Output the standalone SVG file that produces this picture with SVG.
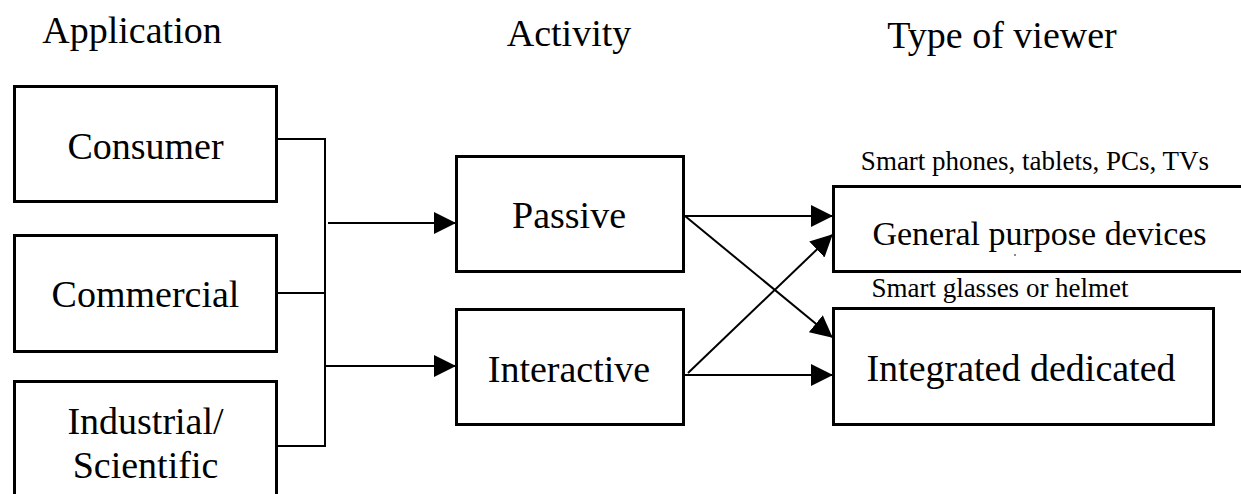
<svg xmlns="http://www.w3.org/2000/svg" width="1241" height="494" viewBox="0 0 1241 494">
  <style>
    .box { fill: #ffffff; stroke: #000000; stroke-width: 3; }
    .fill { fill: #ffffff; stroke: none; }
    .edge { fill: none; stroke: #000000; stroke-width: 3; }
    .lbl { font-family: "Liberation Serif", "Times New Roman", serif; font-size: 38px; fill: #000000; text-anchor: middle; }
    .hdr { font-family: "Liberation Serif", "Times New Roman", serif; font-size: 38px; fill: #000000; text-anchor: middle; }
    .note { font-family: "Liberation Serif", "Times New Roman", serif; font-size: 27px; fill: #000000; text-anchor: middle; }
    .conn { fill: none; stroke: #000000; stroke-width: 2; }
  </style>
  <defs>
    <marker id="arrow" markerUnits="userSpaceOnUse" markerWidth="22" markerHeight="22" refX="21" refY="11" orient="auto" viewBox="0 0 22 22">
      <path d="M0,0 L22,11 L0,22 Z" fill="#000000"/>
    </marker>
  </defs>
  <rect width="1241" height="494" fill="#ffffff"/>

  <g id="headers">
    <text class="hdr" x="132" y="43">Application</text>
    <text class="hdr" x="569" y="46">Activity</text>
    <text class="hdr" x="1002" y="48">Type of viewer</text>
  </g>

  <g id="node-consumer">
    <rect class="box" x="14.5" y="86.5" width="262" height="115"/>
    <text class="lbl" x="145.5" y="159">Consumer</text>
  </g>
  <g id="node-commercial">
    <rect class="box" x="14.5" y="235.5" width="262" height="116"/>
    <text class="lbl" x="145.5" y="307">Commercial</text>
  </g>
  <g id="node-industrial">
    <rect class="fill" x="14.5" y="381.5" width="262" height="112.5"/>
    <path class="edge" d="M14.5,494 V381.5 H276.5 V494"/>
    <text class="lbl" x="145.5" y="434">Industrial/</text>
    <text class="lbl" x="145.5" y="478">Scientific</text>
  </g>

  <g id="node-passive">
    <rect class="box" x="456.5" y="156.5" width="227" height="115"/>
    <text class="lbl" x="569" y="228">Passive</text>
  </g>
  <g id="node-interactive">
    <rect class="box" x="456.5" y="309.5" width="227" height="115"/>
    <text class="lbl" x="569" y="382">Interactive</text>
  </g>

  <g id="node-general">
    <rect class="fill" x="833.5" y="186.5" width="407.5" height="85"/>
    <path class="edge" d="M1241,186.5 H833.5 V271.5 H1241"/>
    <text class="note" x="1035" y="170">Smart phones, tablets, PCs, TVs</text>
    <text class="lbl" x="1039.5" y="245" style="font-size:34px">General purpose devices</text>
    <circle cx="1015" cy="255" r="1" fill="#666666"/>
  </g>
  <g id="node-integrated">
    <rect class="box" x="833.5" y="308.5" width="380" height="116"/>
    <text class="note" x="1000" y="297">Smart glasses or helmet</text>
    <text class="lbl" x="1021" y="381">Integrated dedicated</text>
  </g>

  <g id="connectors">
    <path class="conn" d="M278,139 H325 V446 H276"/>
    <path class="conn" d="M276,293 H325"/>
    <path class="conn" d="M328,223 H455" marker-end="url(#arrow)"/>
    <path class="conn" d="M325,366 H455" marker-end="url(#arrow)"/>
    <path class="conn" d="M685,216 H832" marker-end="url(#arrow)"/>
    <path class="conn" d="M685,216 L832,337" marker-end="url(#arrow)"/>
    <path class="conn" d="M685,375 H832" marker-end="url(#arrow)"/>
    <path class="conn" d="M688,373 L832,235" marker-end="url(#arrow)"/>
  </g>
</svg>
